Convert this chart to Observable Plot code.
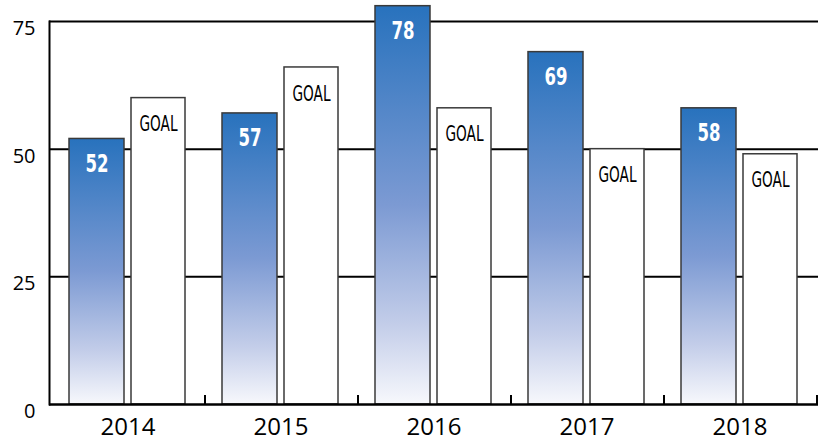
<!DOCTYPE html>
<html>
<head>
<meta charset="utf-8">
<script src="https://cdn.jsdelivr.net/npm/d3@7"></script>
<script src="https://cdn.jsdelivr.net/npm/@observablehq/plot@0.6"></script>
<style>
  html, body { margin: 0; padding: 0; background: #fff; }
  #chart svg { display: block; }
</style>
</head>
<body>
<div id="chart"></div>
<script>
const years = ["2014", "2015", "2016", "2017", "2018"];
const actualValues = [52, 57, 78, 69, 58];
const goalValues = [60, 66, 58, 50, 49];
const yTicks = [0, 25, 50, 75];
const gridValues = [25, 50, 75];
const goalText = "GOAL";

const actual = years.map((year, i) => ({year, value: actualValues[i]}));
const goal = years.map((year, i) => ({year, value: goalValues[i]}));

const narrow = "'Liberation Sans Narrow', 'DejaVu Sans Condensed', 'Liberation Sans', sans-serif";
const axisFont = "'Open Sans', 'Noto Sans', sans-serif";

function gradientDefs() {
  const defs = d3.create("svg:defs");
  const g = defs.append("linearGradient")
    .attr("id", "barGrad")
    .attr("x1", 0).attr("y1", 0).attr("x2", 0).attr("y2", 1);
  [["0%", "#2872bd"], ["50%", "#7c9ad3"], ["80%", "#c3cde9"], ["100%", "#f7f8fc"]]
    .forEach(([o, c]) => g.append("stop").attr("offset", o).attr("stop-color", c));
  return defs.node();
}

const chart = Plot.plot({
  width: 825,
  height: 442,
  marginLeft: 49,
  marginRight: 7,
  marginTop: 21,
  marginBottom: 38,
  x: {domain: years, padding: 0, axis: null},
  y: {domain: [0, 75], axis: null},
  marks: [
    gradientDefs,
    Plot.ruleY(gridValues, {stroke: "#000", strokeWidth: 2}),
    Plot.barY(actual, {x: "year", y: "value", insetLeft: 18, insetRight: 80,
      fill: "url(#barGrad)", stroke: "#3a3a3a", strokeWidth: 1.5}),
    Plot.barY(goal, {x: "year", y: "value", insetLeft: 80, insetRight: 19,
      fill: "#fff", stroke: "#3a3a3a", strokeWidth: 1.5}),
    Plot.text(actual, {x: "year", y: "value", text: d => String(d.value), dx: -31, dy: 25,
      fill: "#fff", fontWeight: "bold", fontSize: 24, fontFamily: narrow,
      ariaLabel: () => "value-label"}),
    Plot.text(goal, {x: "year", y: "value", text: () => goalText, dx: 30.5, dy: 26,
      fill: "#000", fontSize: 22, fontFamily: narrow, ariaLabel: () => "goal-label"}),
    Plot.frame({anchor: "left", stroke: "#000", strokeWidth: 2}),
    Plot.ruleY([0], {stroke: "#000", strokeWidth: 2.5}),
    Plot.ruleX(years, {x: d => d, dx: 77, y1: 0, y2: 0, insetTop: -9, stroke: "#000", strokeWidth: 2}),
    Plot.axisY({ticks: yTicks, tickSize: 0, tickPadding: 14, dy: 7, fontSize: 20,
      fontFamily: axisFont, label: null, fill: "#000"}),
    Plot.axisX({tickSize: 0, tickPadding: 13, fontSize: 24, fontFamily: axisFont, label: null, fill: "#000"})
  ]
});

d3.select(chart).selectAll("text")
  .filter(function() { return this.textContent === goalText; })
  .attr("textLength", 38)
  .attr("lengthAdjust", "spacingAndGlyphs");

d3.select(chart).selectAll("text[aria-label='value-label']")
  .attr("textLength", 23)
  .attr("lengthAdjust", "spacingAndGlyphs");

document.getElementById("chart").appendChild(chart);
</script>
</body>
</html>
